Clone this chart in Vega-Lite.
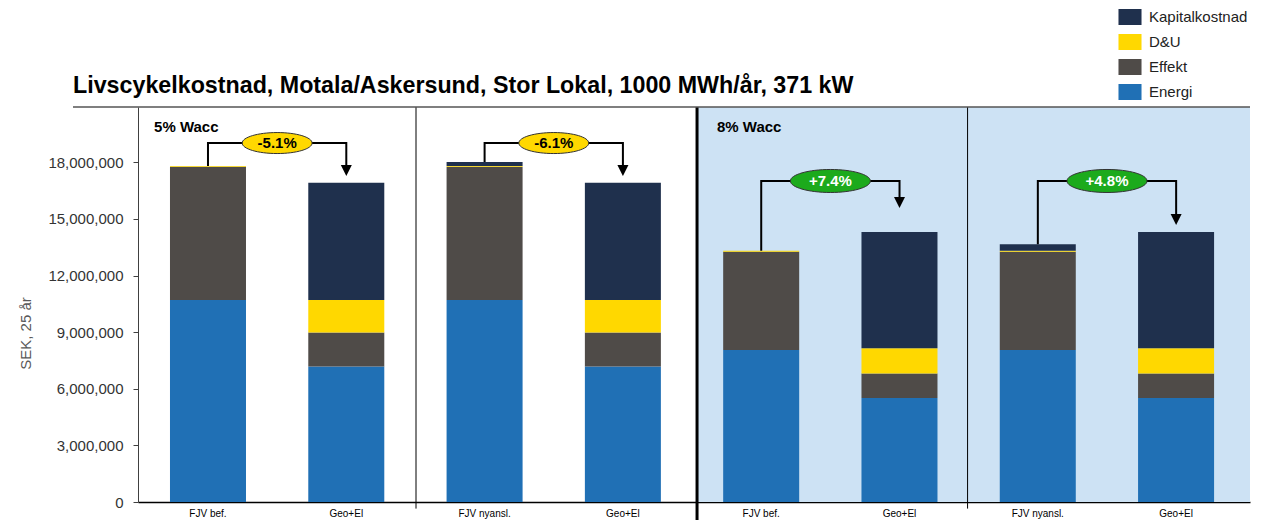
{
  "$schema": "https://vega.github.io/schema/vega-lite/v6.json",
  "width": 1112,
  "height": 395,
  "autosize": {"type": "none"},
  "padding": {"left": 138, "top": 107, "right": 17, "bottom": 18},
  "background": "white",
  "config": {
    "view": {"stroke": null},
    "font": "Liberation Sans"
  },
  "title": {
    "text": "Livscykelkostnad, Motala/Askersund, Stor Lokal, 1000 MWh/år, 371 kW",
    "anchor": "start",
    "frame": "group",
    "dx": -65,
    "offset": -107,
    "baseline": "alphabetic",
    "fontSize": 23.25,
    "fontWeight": "bold",
    "color": "#000000",
    "font": "Liberation Sans"
  },
  "datasets": {
    "costs": [
      {"stapel": "FJV bef.|1", "komponent": "Energi", "ord": 1, "sek": 10710000},
      {"stapel": "FJV bef.|1", "komponent": "Effekt", "ord": 2, "sek": 7050000},
      {"stapel": "FJV bef.|1", "komponent": "D&U", "ord": 3, "sek": 50000},
      {"stapel": "Geo+El|2", "komponent": "Energi", "ord": 1, "sek": 7180000},
      {"stapel": "Geo+El|2", "komponent": "Effekt", "ord": 2, "sek": 1800000},
      {"stapel": "Geo+El|2", "komponent": "D&U", "ord": 3, "sek": 1730000},
      {"stapel": "Geo+El|2", "komponent": "Kapitalkostnad", "ord": 4, "sek": 6210000},
      {"stapel": "FJV nyansl.|3", "komponent": "Energi", "ord": 1, "sek": 10710000},
      {"stapel": "FJV nyansl.|3", "komponent": "Effekt", "ord": 2, "sek": 7050000},
      {"stapel": "FJV nyansl.|3", "komponent": "D&U", "ord": 3, "sek": 50000},
      {"stapel": "FJV nyansl.|3", "komponent": "Kapitalkostnad", "ord": 4, "sek": 200000},
      {"stapel": "Geo+El|4", "komponent": "Energi", "ord": 1, "sek": 7180000},
      {"stapel": "Geo+El|4", "komponent": "Effekt", "ord": 2, "sek": 1800000},
      {"stapel": "Geo+El|4", "komponent": "D&U", "ord": 3, "sek": 1730000},
      {"stapel": "Geo+El|4", "komponent": "Kapitalkostnad", "ord": 4, "sek": 6210000},
      {"stapel": "FJV bef.|5", "komponent": "Energi", "ord": 1, "sek": 8060000},
      {"stapel": "FJV bef.|5", "komponent": "Effekt", "ord": 2, "sek": 5200000},
      {"stapel": "FJV bef.|5", "komponent": "D&U", "ord": 3, "sek": 50000},
      {"stapel": "Geo+El|6", "komponent": "Energi", "ord": 1, "sek": 5510000},
      {"stapel": "Geo+El|6", "komponent": "Effekt", "ord": 2, "sek": 1300000},
      {"stapel": "Geo+El|6", "komponent": "D&U", "ord": 3, "sek": 1340000},
      {"stapel": "Geo+El|6", "komponent": "Kapitalkostnad", "ord": 4, "sek": 6160000},
      {"stapel": "FJV nyansl.|7", "komponent": "Energi", "ord": 1, "sek": 8060000},
      {"stapel": "FJV nyansl.|7", "komponent": "Effekt", "ord": 2, "sek": 5200000},
      {"stapel": "FJV nyansl.|7", "komponent": "D&U", "ord": 3, "sek": 50000},
      {"stapel": "FJV nyansl.|7", "komponent": "Kapitalkostnad", "ord": 4, "sek": 350000},
      {"stapel": "Geo+El|8", "komponent": "Energi", "ord": 1, "sek": 5510000},
      {"stapel": "Geo+El|8", "komponent": "Effekt", "ord": 2, "sek": 1300000},
      {"stapel": "Geo+El|8", "komponent": "D&U", "ord": 3, "sek": 1340000},
      {"stapel": "Geo+El|8", "komponent": "Kapitalkostnad", "ord": 4, "sek": 6160000}
    ],
    "brackets": [
      {"grupp": 1, "steg": 1, "pos": 0.5, "sek": 17810000},
      {"grupp": 1, "steg": 2, "pos": 0.5, "sek": 19020000},
      {"grupp": 1, "steg": 3, "pos": 1.5, "sek": 19020000},
      {"grupp": 1, "steg": 4, "pos": 1.5, "sek": 17560000},
      {"grupp": 2, "steg": 1, "pos": 2.5, "sek": 18010000},
      {"grupp": 2, "steg": 2, "pos": 2.5, "sek": 19020000},
      {"grupp": 2, "steg": 3, "pos": 3.5, "sek": 19020000},
      {"grupp": 2, "steg": 4, "pos": 3.5, "sek": 17560000},
      {"grupp": 3, "steg": 1, "pos": 4.5, "sek": 13310000},
      {"grupp": 3, "steg": 2, "pos": 4.5, "sek": 17010000},
      {"grupp": 3, "steg": 3, "pos": 5.5, "sek": 17010000},
      {"grupp": 3, "steg": 4, "pos": 5.5, "sek": 15870000},
      {"grupp": 4, "steg": 1, "pos": 6.5, "sek": 13660000},
      {"grupp": 4, "steg": 2, "pos": 6.5, "sek": 17010000},
      {"grupp": 4, "steg": 3, "pos": 7.5, "sek": 17010000},
      {"grupp": 4, "steg": 4, "pos": 7.5, "sek": 14970000}
    ],
    "arrows": [
      {"pos": 1.5, "sek": 17560000},
      {"pos": 3.5, "sek": 17560000},
      {"pos": 5.5, "sek": 15870000},
      {"pos": 7.5, "sek": 14970000}
    ],
    "changes": [
      {"pos": 1, "sek": 19020000, "text": "-5.1%", "typ": "neg"},
      {"pos": 3, "sek": 19020000, "text": "-6.1%", "typ": "neg"},
      {"pos": 5, "sek": 17010000, "text": "+7.4%", "typ": "pos"},
      {"pos": 7, "sek": 17010000, "text": "+4.8%", "typ": "pos"}
    ],
    "panels": [
      {"pos": 0.11, "sek": 19860000, "text": "5% Wacc"},
      {"pos": 4.18, "sek": 19860000, "text": "8% Wacc"}
    ]
  },
  "layer": [
    {
      "data": {"values": [{}]},
      "mark": {"type": "rect", "fill": "#CDE2F4"},
      "encoding": {
        "x": {"datum": 4.036, "type": "quantitative", "scale": {"domain": [-0.006, 8.034], "nice": false, "zero": false}, "axis": null},
        "x2": {"datum": 8.034},
        "y": {"datum": 0, "type": "quantitative", "scale": {"domain": [0, 20930000], "nice": false}},
        "y2": {"datum": 20930000}
      }
    },
    {
      "data": {"name": "costs"},
      "mark": {"type": "bar"},
      "encoding": {
        "x": {
          "field": "stapel",
          "type": "nominal",
          "sort": null,
          "scale": {"paddingInner": 0.4504, "paddingOuter": 0.2455, "align": 0.471},
          "axis": {
            "title": null,
            "labelExpr": "split(datum.value, '|')[0]",
            "labelAngle": 0,
            "labelFontSize": 10,
            "labelColor": "#000000",
            "labelPadding": 6,
            "ticks": false,
            "tickSize": 0,
            "domainColor": "#000000",
            "domainWidth": 1.5,
            "grid": false
          }
        },
        "y": {
          "field": "sek",
          "type": "quantitative",
          "stack": "zero",
          "scale": {"domain": [0, 20930000], "nice": false},
          "axis": {
            "title": "SEK, 25 år",
            "titleFontSize": 15,
            "titleFontWeight": "normal",
            "titleColor": "#595959",
            "titlePadding": 14,
            "titleY": 226,
            "values": [0, 3000000, 6000000, 9000000, 12000000, 15000000, 18000000],
            "format": ",.0f",
            "labelFontSize": 15,
            "labelColor": "#333333",
            "labelPadding": 10,
            "tickSize": 5,
            "tickColor": "#404040",
            "domainColor": "#404040",
            "grid": false
          }
        },
        "color": {
          "field": "komponent",
          "type": "nominal",
          "scale": {
            "domain": ["Kapitalkostnad", "D&U", "Effekt", "Energi"],
            "range": ["#1F304D", "#FFD800", "#4F4B48", "#2070B5"]
          },
          "legend": {
            "orient": "none",
            "legendX": 984,
            "legendY": -98,
            "title": null,
            "padding": 0,
            "symbolType": "M-1.44,-1H1.44V1H-1.44Z",
            "symbolSize": 256,
            "symbolStrokeWidth": 0,
            "symbolOpacity": 1,
            "labelFontSize": 15,
            "labelColor": "#222222",
            "labelOffset": 11,
            "rowPadding": 9
          }
        },
        "order": {"field": "ord", "type": "quantitative"}
      }
    },
    {
      "data": {"values": [{}]},
      "mark": {"type": "rule", "color": "#000000", "strokeWidth": 1},
      "encoding": {
        "x": {"datum": 2.004, "type": "quantitative", "scale": {"domain": [-0.006, 8.034], "nice": false, "zero": false}, "axis": null},
        "y": {"datum": 20930000, "type": "quantitative", "scale": {"domain": [0, 20930000], "nice": false}},
        "y2": {"datum": -350000}
      }
    },
    {
      "data": {"values": [{}]},
      "mark": {"type": "rule", "color": "#000000", "strokeWidth": 1},
      "encoding": {
        "x": {"datum": 5.992, "type": "quantitative", "scale": {"domain": [-0.006, 8.034], "nice": false, "zero": false}, "axis": null},
        "y": {"datum": 20930000, "type": "quantitative", "scale": {"domain": [0, 20930000], "nice": false}},
        "y2": {"datum": -350000}
      }
    },
    {
      "data": {"values": [{}]},
      "mark": {"type": "rule", "color": "#000000", "strokeWidth": 3},
      "encoding": {
        "x": {"datum": 4.036, "type": "quantitative", "scale": {"domain": [-0.006, 8.034], "nice": false, "zero": false}, "axis": null},
        "y": {"datum": 20930000, "type": "quantitative", "scale": {"domain": [0, 20930000], "nice": false}},
        "y2": {"datum": -950000}
      }
    },
    {
      "data": {"values": [{}]},
      "mark": {"type": "rule", "color": "#555555", "strokeWidth": 1.5},
      "encoding": {
        "x": {"datum": -0.476, "type": "quantitative", "scale": {"domain": [-0.006, 8.034], "nice": false, "zero": false}, "axis": null},
        "x2": {"datum": 8.034},
        "y": {"datum": 20930000, "type": "quantitative", "scale": {"domain": [0, 20930000], "nice": false}}
      }
    },
    {
      "data": {"name": "brackets"},
      "mark": {"type": "line", "color": "#000000", "strokeWidth": 2, "interpolate": "linear"},
      "encoding": {
        "x": {"field": "pos", "type": "quantitative", "scale": {"domain": [-0.006, 8.034], "nice": false, "zero": false}, "axis": null},
        "y": {"field": "sek", "type": "quantitative", "scale": {"domain": [0, 20930000], "nice": false}},
        "detail": {"field": "grupp", "type": "nominal"},
        "order": {"field": "steg", "type": "quantitative"}
      }
    },
    {
      "data": {"name": "arrows"},
      "mark": {"type": "point", "shape": "M-1,-1L1,-1L0,1Z", "size": 121, "filled": true, "color": "#000000", "opacity": 1},
      "encoding": {
        "x": {"field": "pos", "type": "quantitative", "scale": {"domain": [-0.006, 8.034], "nice": false, "zero": false}, "axis": null},
        "y": {"field": "sek", "type": "quantitative", "scale": {"domain": [0, 20930000], "nice": false}}
      }
    },
    {
      "data": {"name": "changes"},
      "transform": [{"filter": "datum.typ === 'neg'"}],
      "mark": {"type": "point", "shape": "M-3.33,0A3.33,1 0 1,1 3.33,0A3.33,1 0 1,1 -3.33,0Z", "size": 441, "filled": true, "fill": "#FFD800", "stroke": "#333333", "strokeWidth": 1, "opacity": 1},
      "encoding": {
        "x": {"field": "pos", "type": "quantitative", "scale": {"domain": [-0.006, 8.034], "nice": false, "zero": false}, "axis": null},
        "y": {"field": "sek", "type": "quantitative", "scale": {"domain": [0, 20930000], "nice": false}}
      }
    },
    {
      "data": {"name": "changes"},
      "transform": [{"filter": "datum.typ === 'pos'"}],
      "mark": {"type": "point", "shape": "M-3.48,0A3.48,1 0 1,1 3.48,0A3.48,1 0 1,1 -3.48,0Z", "size": 529, "filled": true, "fill": "#1CAA1C", "stroke": "#333333", "strokeWidth": 1, "opacity": 1},
      "encoding": {
        "x": {"field": "pos", "type": "quantitative", "scale": {"domain": [-0.006, 8.034], "nice": false, "zero": false}, "axis": null},
        "y": {"field": "sek", "type": "quantitative", "scale": {"domain": [0, 20930000], "nice": false}}
      }
    },
    {
      "data": {"name": "changes"},
      "mark": {"type": "text", "fontSize": 15, "fontWeight": "bold", "align": "center", "baseline": "middle", "font": "Liberation Sans"},
      "encoding": {
        "x": {"field": "pos", "type": "quantitative", "scale": {"domain": [-0.006, 8.034], "nice": false, "zero": false}, "axis": null},
        "y": {"field": "sek", "type": "quantitative", "scale": {"domain": [0, 20930000], "nice": false}},
        "text": {"field": "text"},
        "color": {"condition": {"test": "datum.typ === 'pos'", "value": "#FFFFFF"}, "value": "#000000"}
      }
    },
    {
      "data": {"name": "panels"},
      "mark": {"type": "text", "fontSize": 15, "fontWeight": "bold", "align": "left", "baseline": "middle", "color": "#000000", "font": "Liberation Sans"},
      "encoding": {
        "x": {"field": "pos", "type": "quantitative", "scale": {"domain": [-0.006, 8.034], "nice": false, "zero": false}, "axis": null},
        "y": {"field": "sek", "type": "quantitative", "scale": {"domain": [0, 20930000], "nice": false}},
        "text": {"field": "text"}
      }
    }
  ],
  "resolve": {"scale": {"x": "independent"}}
}
